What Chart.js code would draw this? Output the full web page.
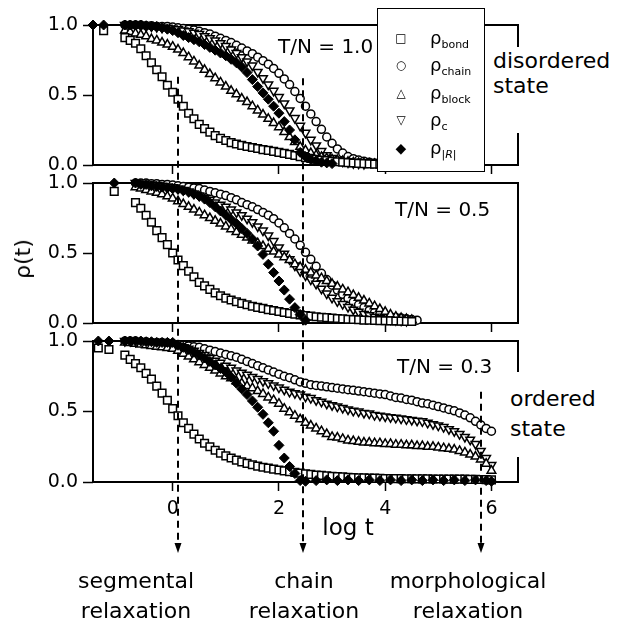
<!DOCTYPE html>
<html>
<head>
<meta charset="utf-8">
<script src="https://cdn.jsdelivr.net/npm/chart.js@4.4.1/dist/chart.umd.min.js"></script>
<style>
html,body{margin:0;padding:0;background:#fff;}
#wrap{position:relative;width:625px;height:623px;overflow:hidden;font-family:"DejaVu Sans",sans-serif;color:#000;background:#fff;}
#wrap canvas{position:absolute;left:0;top:0;}
.lbl{position:absolute;white-space:nowrap;z-index:5;}
.ctr{text-align:center;}
#legend{position:absolute;left:377px;top:8px;width:108px;height:164px;box-sizing:border-box;border:1px solid #000;background:#fff;z-index:6;}
.lrow{position:absolute;left:0;height:20px;line-height:20px;width:106px;}
.lmark{position:absolute;left:14px;width:18px;text-align:center;font-size:12px;}
.ltext{position:absolute;left:52px;font-size:18px;}
.ltext sub{font-size:11px;vertical-align:-4px;}
</style>
</head>
<body>
<div id="wrap">
  <canvas id="c0" width="625" height="623"></canvas>
  <canvas id="c1" width="625" height="623"></canvas>
  <canvas id="c2" width="625" height="623"></canvas>

  <div class="lbl" style="left:278px;top:36px;font-size:20px;line-height:20px;">T/N = 1.0</div>
  <div class="lbl" style="left:395px;top:199px;font-size:20px;line-height:20px;">T/N = 0.5</div>
  <div class="lbl" style="left:397px;top:356px;font-size:20px;line-height:20px;">T/N = 0.3</div>

  <div class="lbl" style="left:493px;top:47px;padding:1px 0 35px 0;width:132px;font-size:22px;line-height:25px;background:#fff;">disordered<br>state</div>
  <div class="lbl" style="left:510px;top:372px;padding:12px 0 13px 0;width:115px;font-size:22px;line-height:30px;background:#fff;">ordered<br>state</div>

  <div class="lbl" style="left:23px;top:259px;font-size:22px;line-height:22px;transform:translate(-50%,-50%) rotate(-90deg);">ρ(t)</div>
  <div class="lbl ctr" style="left:288px;top:516px;width:120px;font-size:23px;line-height:23px;">log t</div>

  <div class="lbl ctr" style="left:36px;top:566px;width:200px;font-size:22px;line-height:30px;">segmental<br>relaxation</div>
  <div class="lbl ctr" style="left:204px;top:566px;width:200px;font-size:22px;line-height:30px;">chain<br>relaxation</div>
  <div class="lbl ctr" style="left:368px;top:566px;width:200px;font-size:22px;line-height:30px;">morphological<br>relaxation</div>

  <div id="legend">
    <div class="lrow" style="top:19px;"><span class="lmark">□</span><span class="ltext">ρ<sub>bond</sub></span></div>
    <div class="lrow" style="top:46px;"><span class="lmark">○</span><span class="ltext">ρ<sub>chain</sub></span></div>
    <div class="lrow" style="top:74px;"><span class="lmark">△</span><span class="ltext">ρ<sub>block</sub></span></div>
    <div class="lrow" style="top:101px;"><span class="lmark">▽</span><span class="ltext">ρ<sub>c</sub></span></div>
    <div class="lrow" style="top:129px;"><span class="lmark" style="font-size:14px;">◆</span><span class="ltext">ρ<sub><i>|R|</i></sub></span></div>
  </div>
</div>

<script>
// ---------------- DATA ----------------
const seriesNames = ['ρbond', 'ρchain', 'ρblock', 'ρc', 'ρ|R|'];
const panelTitles = ['T/N = 1.0', 'T/N = 0.5', 'T/N = 0.3'];
const xTicks = [0, 2, 4, 6];
const yTicks = [0, 0.5, 1];
const arrowLogT = [0.1, 2.45, 5.8];
const arrowFromPanel = [0, 0, 2];
const arrowFromRho = [0.63, 0.62, 0.64];

// T/N = 1.0
const logT_1 = [-1.5,-1.3,-0.9,-0.8,-0.7,-0.6,-0.5,-0.4,-0.3,-0.2,-0.1,0,
  0.1,0.2,0.3,0.4,0.5,0.6,0.7,0.8,0.9,1,1.1,1.2,1.3,1.4,1.5,1.6,1.7,1.8,1.9,2,
  2.1,2.2,2.3,2.4,2.5,2.6,2.7,2.8,2.9,3,3.1,3.2,3.3,3.4,3.5,3.6,3.7,3.8,3.9,4];
const bond_1 = [null,0.96,
  .91,.89,.87,.83,.78,.73,.68,.63,.57,.52,
  .47,.42,.37,.33,.29,.26,.235,.21,.19,.175,
  .16,.15,.14,.132,.125,.118,.11,.104,.097,.09,
  .083,.076,.068,.06,.053,.047,.041,.036,.031,.027,
  .023,.02,.017,.014,.012,.01,.008,.006,.005,null];
const chain_1 = [null,null,
  1,1,1,1,.995,.995,.99,.99,.99,.985,
  .98,.975,.97,.965,.955,.945,.935,.92,.905,.89,
  .875,.855,.835,.815,.795,.77,.745,.72,.69,.655,
  .615,.575,.525,.475,.42,.365,.31,.255,.2,.155,
  .115,.085,.06,.045,.035,.027,.02,.015,.012,.01];
const block_1 = [null,null,
  .96,.95,.94,.93,.92,.9,.89,.875,.86,.845,
  .825,.8,.77,.74,.71,.68,.65,.62,.59,.56,
  .53,.505,.475,.45,.42,.39,.36,.33,.3,.27,
  .235,.2,.165,.13,.105,.085,.07,.058,.048,.04,
  .034,.028,.023,.018,.015,.012,.01,.008,null,null];
const c_1 = [null,null,
  1,1,.995,.995,.99,.99,.985,.98,.98,.975,
  .97,.96,.955,.945,.935,.92,.905,.89,.87,.85,
  .825,.8,.77,.74,.71,.665,.62,.575,.53,.485,
  .44,.39,.335,.28,.23,.18,.14,.1,.07,.05,
  .035,.025,.018,.013,.01,.008,null,null,null,null];
const R_1 = [1,1,
  1,1,1,1,.995,.99,.99,.98,.97,.96,
  .945,.925,.91,.895,.88,.86,.84,.82,.8,.78,
  .755,.73,.7,.66,.61,.56,.515,.47,.42,.37,
  .31,.25,.18,.09,.06,.04,.03,.02,.015,.01];

// T/N = 0.5
const logT_2 = [-1.1,-0.7,-0.6,-0.5,-0.4,-0.3,-0.2,-0.1,0,0.1,0.2,
  0.3,0.4,0.5,0.6,0.7,0.8,0.9,1,1.1,1.2,
  1.3,1.4,1.5,1.6,1.7,1.8,1.9,2,2.1,2.2,
  2.3,2.4,2.5,2.6,2.7,2.8,2.9,3,3.1,3.2,
  3.3,3.4,3.5,3.6,3.7,3.8,3.9,4,4.1,4.2,
  4.3,4.4,4.5,4.6];
const bond_2 = [.94,
  .86,.82,.77,.72,.66,.61,.56,.5,.45,.41,
  .37,.33,.29,.265,.24,.215,.195,.178,.164,.152,
  .14,.13,.12,.112,.104,.096,.089,.082,.075,.069,
  .063,.058,.053,.049,.045,.041,.038,.035,.032,.029,
  .027,.025,.023,.021,.02,.018,.017,.016,.015,.014,
  .013,.012,.011,null];
const chain_2 = [null,
  1,1,1,.995,.995,.99,.99,.985,.98,.975,
  .97,.965,.96,.95,.94,.93,.92,.91,.895,.88,
  .86,.845,.83,.81,.79,.77,.745,.715,.68,.64,
  .6,.555,.505,.455,.405,.355,.31,.27,.235,.205,
  .175,.15,.13,.11,.09,.075,.062,.052,.045,.04,
  .035,.03,.025,.02];
const block_2 = [null,
  .97,.96,.95,.94,.93,.92,.905,.89,.87,.85,
  .83,.81,.79,.77,.75,.73,.71,.69,.67,.65,
  .63,.61,.59,.57,.55,.53,.51,.49,.47,.45,
  .42,.4,.38,.36,.34,.32,.3,.28,.26,.24,
  .22,.2,.18,.16,.14,.12,.1,.08,.06,.045,
  .035,.028,.022,null];
const c_2 = [null,
  1,.995,.99,.99,.985,.98,.975,.97,.96,.95,
  .94,.925,.91,.895,.88,.86,.845,.83,.81,.79,
  .77,.745,.72,.69,.66,.625,.585,.54,.495,.455,
  .41,.37,.34,.31,.28,.245,.21,.18,.155,.135,
  .115,.095,.08,.065,.055,.045,.035,.03,.025,.02,
  .017,.015,null,null];
const R_2 = [1,
  1,.99,.99,.98,.975,.97,.965,.96,.955,.945,
  .935,.92,.905,.885,.86,.83,.8,.77,.74,.71,
  .675,.64,.6,.55,.49,.42,.36,.3,.235,.17,
  .11,.06,.02];

// T/N = 0.3
const logT_3 = [-1.4,-1.2,-0.9,-0.8,-0.7,-0.6,-0.5,-0.4,-0.3,-0.2,-0.1,0,
  0.1,0.2,0.3,0.4,0.5,0.6,0.7,0.8,0.9,1,
  1.1,1.2,1.3,1.4,1.5,1.6,1.7,1.8,1.9,2,
  2.1,2.2,2.3,2.4,2.5,2.6,2.7,2.8,2.9,3,
  3.1,3.2,3.3,3.4,3.5,3.6,3.7,3.8,3.9,4,
  4.1,4.2,4.3,4.4,4.5,4.6,4.7,4.8,4.9,5,
  5.1,5.2,5.3,5.4,5.5,5.6,5.7,5.8,5.9,6];
const bond_3 = [.95,.94,
  .9,.87,.84,.81,.77,.73,.68,.63,.58,.52,
  .47,.42,.38,.34,.305,.275,.25,.225,.205,.185,
  .17,.155,.143,.132,.122,.113,.105,.098,.091,.085,
  .079,.073,.068,.063,.058,.054,.05,.047,.044,.041,
  .038,.036,.034,.032,.03,.029,.028,.027,.026,.025,
  .025,.024,.024,.023,.023,.022,.022,.022,.021,.021,
  .021,.02,.02,.02,.02,.019,.019,.018,.017,.015];
const chain_3 = [null,null,
  1,1,1,.995,.995,.99,.99,.99,.985,.98,
  .975,.97,.965,.96,.955,.945,.935,.925,.915,.905,
  .895,.885,.87,.855,.84,.825,.81,.795,.78,.765,
  .75,.74,.725,.71,.7,.69,.685,.68,.675,.67,
  .665,.66,.655,.65,.645,.64,.635,.63,.625,.62,
  .61,.6,.595,.585,.58,.57,.56,.555,.545,.535,
  .525,.515,.505,.49,.475,.455,.43,.405,.38,.36];
const block_3 = [null,null,
  .99,.985,.98,.975,.97,.965,.96,.955,.95,.945,
  .93,.91,.89,.87,.85,.83,.81,.79,.77,.75,
  .735,.715,.7,.68,.665,.645,.625,.6,.58,.555,
  .52,.495,.47,.445,.42,.4,.38,.36,.34,.32,
  .315,.305,.295,.29,.285,.28,.28,.275,.275,.27,
  .27,.265,.265,.26,.26,.255,.255,.25,.25,.245,
  .24,.235,.23,.22,.21,.195,.18,.16,.13,.08];
const c_3 = [null,null,
  1,1,.995,.995,.99,.99,.985,.985,.98,.975,
  .965,.955,.945,.93,.915,.9,.88,.86,.845,.825,
  .81,.79,.775,.76,.745,.73,.715,.7,.685,.67,
  .655,.64,.63,.62,.605,.595,.58,.57,.555,.545,
  .535,.525,.515,.505,.5,.49,.485,.475,.47,.465,
  .46,.455,.45,.445,.44,.435,.43,.42,.41,.4,
  .39,.375,.36,.34,.32,.3,.27,.22,.17,.12];
const R_3 = [1,1,
  1,1,1,1,.995,.995,.99,.99,.99,.99,
  .97,.955,.94,.92,.9,.88,.855,.83,.805,.78,
  .745,.7,.66,.62,.575,.53,.48,.42,.36,.26,
  .17,.11,.06,.01,.005,null,.01,null,.015,null,
  .01,null,.015,null,.01,null,.015,null,.01,null,
  .015,null,.01,null,.015,null,.01,null,.015,null,
  .01,null,.015,null,.01,null,.015,null,.01,.005];

// ---------------- STYLE / BUILD ----------------
Chart.defaults.font.family = "'DejaVu Sans', sans-serif";
Chart.defaults.font.size = 19;
Chart.defaults.color = '#000';

const markerStyles = [
  {style:'rect',     r:5.4, rot:0,   fill:'#fff', bw:1.5, order:1},
  {style:'circle',   r:4.0, rot:0,   fill:'#fff', bw:1.5, order:4},
  {style:'triangle', r:5.0, rot:0,   fill:'#fff', bw:1.5, order:2},
  {style:'triangle', r:5.0, rot:180, fill:'#fff', bw:1.5, order:3},
  {style:'rectRot',  r:5.0, rot:0,   fill:'#000', bw:1,   order:0}
];

function buildDatasets(xs, seriesList) {
  return seriesList.map((ys, k) => {
    const st = markerStyles[k];
    const pts = [];
    xs.forEach((x, i) => {
      const y = ys[i];
      if (y !== null && y !== undefined) pts.push({x: x, y: y});
    });
    return {
      label: seriesNames[k], data: pts,
      pointStyle: st.style, pointRadius: st.r, pointRotation: st.rot,
      pointBackgroundColor: st.fill, pointBorderColor: '#000', pointBorderWidth: st.bw,
      showLine: false, clip: false, order: st.order
    };
  });
}

const framePlugin = {
  id: 'frame',
  beforeDatasetsDraw(chart) {
    const ctx = chart.ctx, a = chart.chartArea;
    ctx.save();
    ctx.strokeStyle = '#000';
    ctx.lineWidth = 2;
    ctx.strokeRect(a.left, a.top, a.right - a.left, a.bottom - a.top);
    ctx.restore();
  }
};

const charts = [];

const arrowPlugin = {
  id: 'arrows',
  afterDraw(chart) {
    const ctx = chart.ctx, xs = chart.scales.x;
    const tipY = chart.chartArea.bottom + 71;
    arrowLogT.forEach((lt, i) => {
      const x = Math.round(xs.getPixelForValue(lt));
      const src = arrowFromPanel[i] === 2 ? chart : charts[arrowFromPanel[i]];
      const y0 = src.scales.y.getPixelForValue(arrowFromRho[i]);
      ctx.save();
      ctx.strokeStyle = '#000';
      ctx.lineWidth = 2;
      ctx.setLineDash([7, 5]);
      ctx.beginPath();
      ctx.moveTo(x, y0);
      ctx.lineTo(x, tipY - 10);
      ctx.stroke();
      ctx.setLineDash([]);
      ctx.fillStyle = '#000';
      ctx.beginPath();
      ctx.moveTo(x - 3.5, tipY - 10);
      ctx.lineTo(x + 3.5, tipY - 10);
      ctx.lineTo(x, tipY);
      ctx.closePath();
      ctx.fill();
      ctx.restore();
    });
  }
};

function makeChart(id, xs, series, padTop, padBottom, xHeight, showLabels, extra) {
  return new Chart(document.getElementById(id), {
    type: 'scatter',
    data: { datasets: buildDatasets(xs, series) },
    options: {
      responsive: false, animation: false, devicePixelRatio: 1, events: [],
      layout: { padding: { left: 0, right: 107, top: padTop, bottom: padBottom } },
      plugins: { legend: { display: false }, tooltip: { enabled: false } },
      scales: {
        x: {
          type: 'linear', min: -1.5, max: 6.5,
          afterBuildTicks: ax => { ax.ticks = xTicks.map(v => ({value: v})); },
          afterFit: s => { s.height = xHeight; },
          border: { display: false },
          grid: { drawOnChartArea: false, drawTicks: true, tickLength: 9, tickWidth: 1.5, tickColor: '#000' },
          ticks: { display: showLabels, padding: 7, color: '#000', font: { size: 19 },
                   callback: v => String(v) }
        },
        y: {
          type: 'linear', min: 0, max: 1,
          afterBuildTicks: ax => { ax.ticks = yTicks.map(v => ({value: v})); },
          afterFit: s => { s.width = 93; },
          border: { display: false },
          grid: { drawOnChartArea: false, drawTicks: true, tickLength: 10, tickWidth: 1.5, tickColor: '#000' },
          ticks: { padding: 5, color: '#000', font: { size: 19 }, callback: v => Number(v).toFixed(1) }
        }
      }
    },
    plugins: [framePlugin].concat(extra || [])
  });
}

charts.push(makeChart('c0', logT_1, [bond_1, chain_1, block_1, c_1, R_1], 25, 448, 10, false));
charts.push(makeChart('c1', logT_2, [bond_2, chain_2, block_2, c_2, R_2], 183, 290, 10, false));
charts.push(makeChart('c2', logT_3, [bond_3, chain_3, block_3, c_3, R_3], 341, 101, 40, true, [arrowPlugin]));
</script>
</body>
</html>
